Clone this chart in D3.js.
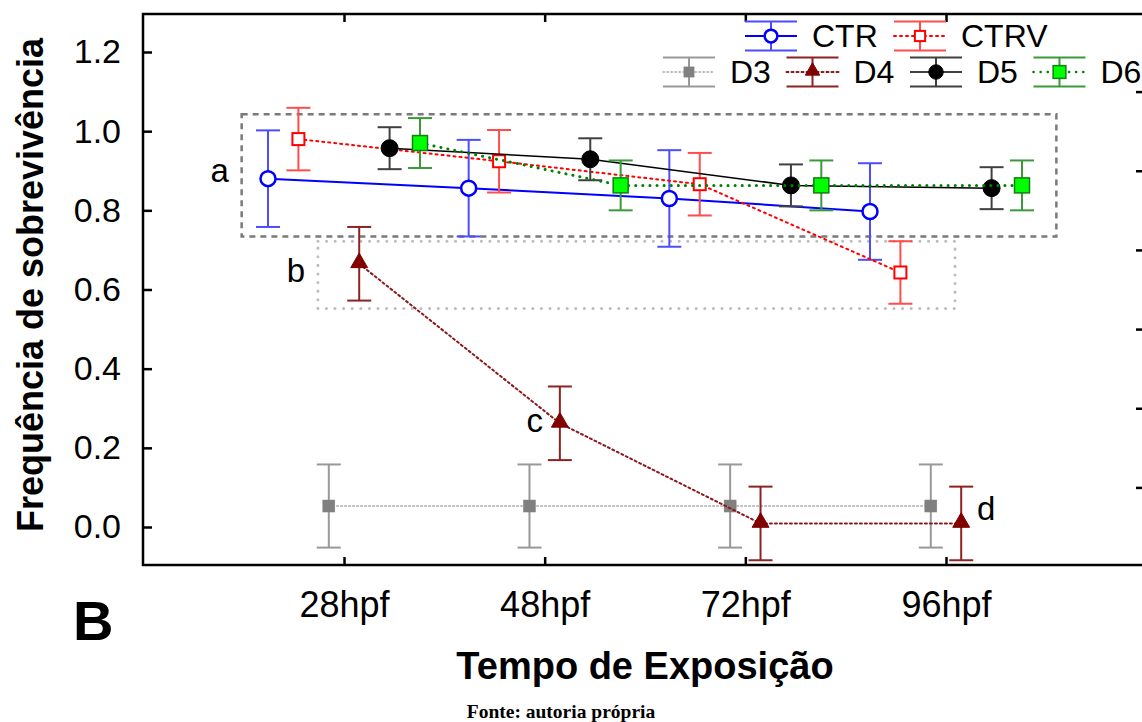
<!DOCTYPE html>
<html>
<head>
<meta charset="utf-8">
<script src="https://cdn.jsdelivr.net/npm/d3@7"></script>
<style>
  body { margin: 0; background: #fff; }
  svg { display: block; font-family: "Liberation Sans", Arial, sans-serif; }
</style>
</head>
<body>
<svg id="chart" width="1142" height="722"></svg>
<script>
// data
var categories = ["28hpf", "48hpf", "72hpf", "96hpf"];
var seriesNames = ["CTR", "CTRV", "D3", "D4", "D5", "D6"];

var ctrMean  = [0.880, 0.856, 0.830, 0.797];
var ctrErr   = [0.122, 0.122, 0.122, 0.122];
var ctrvMean = [0.980, 0.924, 0.866, 0.643];
var ctrvErr  = [0.079, 0.079, 0.079, 0.079];
var d3Mean   = [0.053, 0.053, 0.053, 0.053];
var d3Err    = [0.105, 0.105, 0.105, 0.105];
var d4Mean   = [0.665, 0.262, 0.009, 0.009];
var d4Err    = [0.093, 0.093, 0.093, 0.093];
var d5Mean   = [0.957, 0.929, 0.863, 0.856];
var d5Err    = [0.053, 0.053, 0.053, 0.053];
var d6Mean   = [0.970, 0.863, 0.863, 0.863];
var d6Err    = [0.063, 0.063, 0.063, 0.063];

var yTicks = [0.0, 0.2, 0.4, 0.6, 0.8, 1.0, 1.2];
var yTicksRight = [0.1, 0.3, 0.5, 0.7, 0.9, 1.1];

// grouping boxes (x in category index units, y in frequency)
var groupBoxes = [
    {x0: -0.51, x1: 3.55, y0: 0.734, y1: 1.043, kind: "dash"},
    {x0: -0.13, x1: 3.045, y0: 0.552, y1: 0.722, kind: "dot"}
];
var groupLabels = [
    {text: "a", x: -0.62, y: 0.871},
    {text: "b", x: -0.24, y: 0.618},
    {text: "c", x: 0.95, y: 0.240},
    {text: "d", x: 3.20, y: 0.018}
];

var styles = {
    CTR:  {line: "#0000ff", width: 2,   dash: null,      err: "#4d4dff", marker: "circle",   size: 7.5, fill: "#fff",    stroke: "#0000ff", sw: 2.5},
    CTRV: {line: "#ff0000", width: 2,   dash: "2,4",     err: "#ff4d4d", marker: "square",   size: 12,  fill: "#fff",    stroke: "#ff0000", sw: 2},
    D3:   {line: "#a8a8a8", width: 1.5, dash: "1.5,2.5", err: "#999999", marker: "square",   size: 12,  fill: "#808080", stroke: "#808080", sw: 0.5},
    D4:   {line: "#8b1a1a", width: 2,   dash: "2,3",     err: "#8b2323", marker: "triangle", size: 15,  fill: "#800000", stroke: "#800000", sw: 1},
    D5:   {line: "#000000", width: 1.5, dash: null,      err: "#404040", marker: "circle",   size: 8.5, fill: "#000",    stroke: "#000",    sw: 1},
    D6:   {line: "#008000", width: 3,   dash: "0.1,7",   err: "#3a9a3a", marker: "square",   size: 15,  fill: "#00ff00", stroke: "#108010", sw: 1.5}
};

var series = [
    {name: "CTR",  mean: ctrMean,  err: ctrErr},
    {name: "CTRV", mean: ctrvMean, err: ctrvErr},
    {name: "D3",   mean: d3Mean,   err: d3Err},
    {name: "D4",   mean: d4Mean,   err: d4Err},
    {name: "D5",   mean: d5Mean,   err: d5Err},
    {name: "D6",   mean: d6Mean,   err: d6Err}
];

var plotLeft = 143, plotRight = 1144, plotTop = 14, plotBottom = 565;

var svg = d3.select("#chart");

var x = d3.scalePoint().domain(categories).range([344, 946]);
var xIdx = d3.scaleLinear().domain([0, 3]).range([344, 946]);
var offset = d3.scalePoint().domain(seriesNames).range([-76, 76]);
var y = d3.scaleLinear().domain([-0.096, 1.296]).range([plotBottom, plotTop]);

function px(name, i) { return x(categories[i]) + offset(name); }

// grouping boxes
groupBoxes.forEach(function(b) {
    svg.append("rect")
        .attr("x", xIdx(b.x0))
        .attr("y", y(b.y1))
        .attr("width", xIdx(b.x1) - xIdx(b.x0))
        .attr("height", y(b.y0) - y(b.y1))
        .attr("fill", "none")
        .attr("stroke", b.kind == "dash" ? "#7a7a7a" : "#bdbdbd")
        .attr("stroke-width", b.kind == "dash" ? 2.5 : 3)
        .attr("stroke-linecap", b.kind == "dash" ? "butt" : "round")
        .attr("stroke-dasharray", b.kind == "dash" ? "6,5" : "0.1,8.5");
});

svg.selectAll(".glabel")
    .data(groupLabels)
    .enter()
    .append("text")
    .attr("class", "glabel")
    .attr("x", function(d) { return xIdx(d.x); })
    .attr("y", function(d) { return y(d.y); })
    .attr("text-anchor", "middle")
    .attr("font-size", 33)
    .text(function(d) { return d.text; });

// lines
var line = d3.line()
    .x(function(d) { return d.x; })
    .y(function(d) { return y(d.v); });

function drawMarker(g, st, cx, cy, scale) {
    var s = st.size * scale;
    if (st.marker == "circle") {
        g.append("circle").attr("cx", cx).attr("cy", cy).attr("r", s)
            .attr("fill", st.fill).attr("stroke", st.stroke).attr("stroke-width", st.sw);
    } else if (st.marker == "square") {
        g.append("rect").attr("x", cx - s / 2).attr("y", cy - s / 2)
            .attr("width", s).attr("height", s)
            .attr("fill", st.fill).attr("stroke", st.stroke).attr("stroke-width", st.sw);
    } else {
        g.append("path")
            .attr("d", d3.symbol().type(d3.symbolTriangle).size(s * s * 0.55)())
            .attr("transform", "translate(" + cx + "," + (cy - 1) + ")")
            .attr("fill", st.fill).attr("stroke", st.stroke).attr("stroke-width", st.sw);
    }
}

series.forEach(function(s) {
    var st = styles[s.name];
    var g = svg.append("g").attr("class", "series-" + s.name);
    var pts = s.mean.map(function(v, i) { return {x: px(s.name, i), v: v, e: s.err[i]}; });

    g.append("path")
        .datum(pts)
        .attr("d", line)
        .attr("fill", "none")
        .attr("stroke", st.line)
        .attr("stroke-width", st.width)
        .attr("stroke-linecap", st.dash ? "round" : "butt")
        .attr("stroke-dasharray", st.dash);

    // error bars
    var eb = g.selectAll(".eb").data(pts).enter().append("g").attr("class", "eb");
    eb.append("line")
        .attr("x1", function(d) { return d.x; })
        .attr("x2", function(d) { return d.x; })
        .attr("y1", function(d) { return y(d.v + d.e); })
        .attr("y2", function(d) { return y(d.v - d.e); })
        .attr("stroke", st.err).attr("stroke-width", 2);
    [1, -1].forEach(function(sign) {
        eb.append("line")
            .attr("x1", function(d) { return d.x - 12; })
            .attr("x2", function(d) { return d.x + 12; })
            .attr("y1", function(d) { return y(d.v + sign * d.e); })
            .attr("y2", function(d) { return y(d.v + sign * d.e); })
            .attr("stroke", st.err).attr("stroke-width", 2);
    });

    pts.forEach(function(d) { drawMarker(g, st, d.x, y(d.v), 1); });
});

// frame
svg.append("rect")
    .attr("x", plotLeft).attr("y", plotTop)
    .attr("width", plotRight - plotLeft).attr("height", plotBottom - plotTop)
    .attr("fill", "none").attr("stroke", "#000").attr("stroke-width", 2.5);

// axes
var yAxis = svg.append("g")
    .attr("transform", "translate(" + plotLeft + ",0)")
    .call(d3.axisLeft(y).tickValues(yTicks).tickFormat(d3.format(".1f"))
        .tickSizeInner(-9).tickSizeOuter(0).tickPadding(22));
yAxis.select(".domain").remove();
yAxis.selectAll("line").attr("stroke-width", 2.5);
yAxis.selectAll("text").attr("font-size", 34).attr("font-family", "Liberation Sans, Arial").attr("fill", "#000");

var yAxisR = svg.append("g")
    .attr("transform", "translate(" + plotRight + ",0)")
    .call(d3.axisLeft(y).tickValues(yTicksRight).tickSizeInner(8).tickSizeOuter(0).tickFormat(""));
yAxisR.select(".domain").remove();
yAxisR.selectAll("line").attr("stroke-width", 2.5);

var xAxis = svg.append("g")
    .attr("transform", "translate(0," + plotBottom + ")")
    .call(d3.axisBottom(x).tickSizeInner(-8).tickSizeOuter(0).tickPadding(26));
xAxis.select(".domain").remove();
xAxis.selectAll("line").attr("stroke-width", 2.5);
xAxis.selectAll("text").attr("font-size", 36).attr("font-family", "Liberation Sans, Arial").attr("fill", "#000");

var xAxisT = svg.append("g")
    .attr("transform", "translate(0," + plotTop + ")")
    .call(d3.axisTop(x).tickSizeInner(-8).tickSizeOuter(0).tickFormat(""));
xAxisT.select(".domain").remove();
xAxisT.selectAll("line").attr("stroke-width", 2.5);

// legend
var legendRows = [
    {names: ["CTR", "CTRV"], cx: 771, cy: 36, step: 149},
    {names: ["D3", "D4", "D5", "D6"], cx: 689, cy: 72, step: 123.5}
];
legendRows.forEach(function(row) {
    row.names.forEach(function(n, i) {
        var st = styles[n];
        var cx = row.cx + i * row.step, cy = row.cy;
        var g = svg.append("g").attr("class", "legend-" + n);
        g.append("line").attr("x1", cx - 26).attr("x2", cx + 26).attr("y1", cy).attr("y2", cy)
            .attr("stroke", st.line).attr("stroke-width", Math.min(st.width, 2.5))
            .attr("stroke-linecap", st.dash ? "round" : "butt")
            .attr("stroke-dasharray", st.dash);
        g.append("line").attr("x1", cx).attr("x2", cx).attr("y1", cy - 14.5).attr("y2", cy + 14.5)
            .attr("stroke", st.err).attr("stroke-width", 2);
        [-14.5, 14.5].forEach(function(dy) {
            g.append("line").attr("x1", cx - 26).attr("x2", cx + 26).attr("y1", cy + dy).attr("y2", cy + dy)
                .attr("stroke", st.err).attr("stroke-width", 2);
        });
        drawMarker(g, st, cx, cy, 0.85);
        g.append("text").attr("x", cx + 41).attr("y", cy + 11)
            .attr("font-size", 32).text(n);
    });
});

// titles
svg.append("text")
    .attr("transform", "translate(43,285) rotate(-90)")
    .attr("text-anchor", "middle")
    .attr("font-size", 36).attr("font-weight", "bold")
    .text("Frequência de sobrevivência");

svg.append("text")
    .attr("x", 645).attr("y", 679)
    .attr("text-anchor", "middle")
    .attr("font-size", 38).attr("font-weight", "bold")
    .text("Tempo de Exposição");

svg.append("text")
    .attr("x", 73).attr("y", 640)
    .attr("font-size", 56).attr("font-weight", "bold")
    .text("B");

svg.append("text")
    .attr("x", 561).attr("y", 718)
    .attr("text-anchor", "middle")
    .attr("font-family", "Liberation Serif, Times New Roman, serif")
    .attr("font-size", 19.5).attr("font-weight", "bold")
    .text("Fonte: autoria própria");
</script>
</body>
</html>
